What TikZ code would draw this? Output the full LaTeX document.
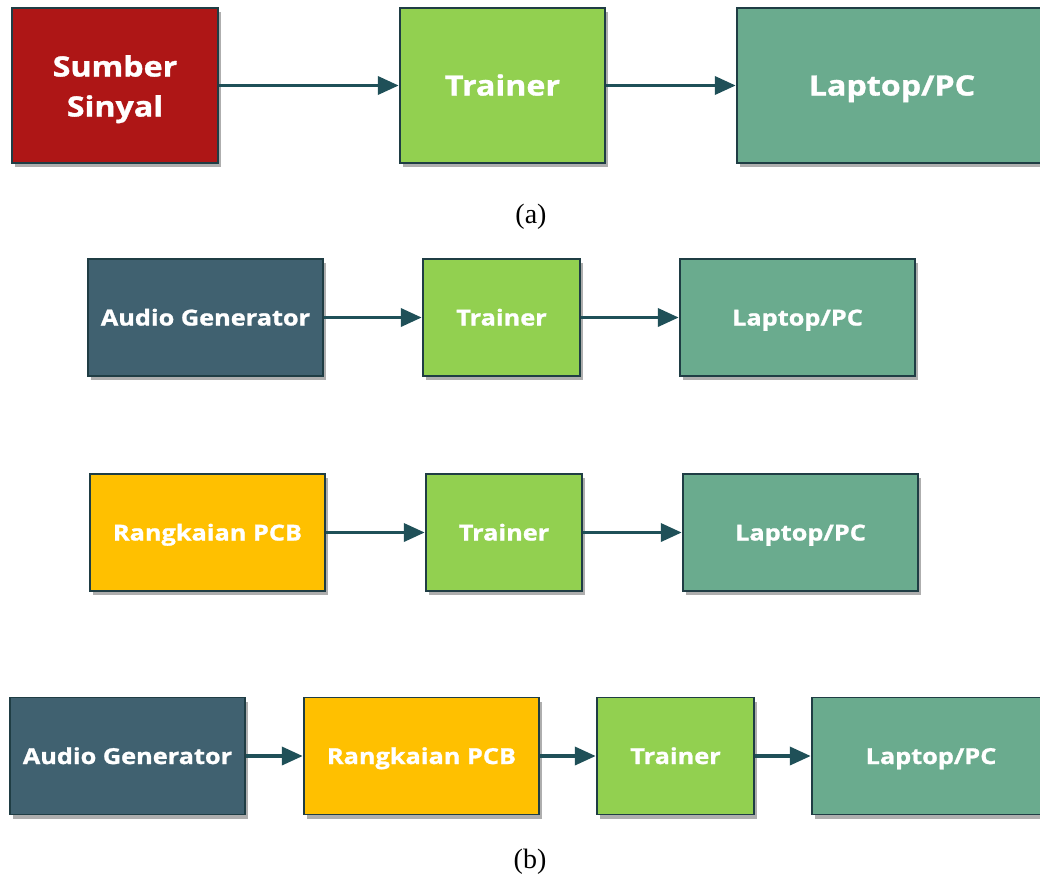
\documentclass[tikz,border=0pt]{standalone}
\usepackage{fontspec}
\setmainfont{Liberation Serif}
\newfontfamily\boxfont{Open Sans}[FakeStretch=1.15,FakeBold=1.2]
\usepackage{tikz}
\usetikzlibrary{positioning,arrows.meta,shadows}
\definecolor{sumberred}{HTML}{AE1616}
\definecolor{trainergreen}{HTML}{92D050}
\definecolor{laptopteal}{HTML}{6AAB8E}
\definecolor{audioslate}{HTML}{406170}
\definecolor{pcbyellow}{HTML}{FFC000}
\definecolor{edgedark}{HTML}{1F3D44}
\definecolor{arrowteal}{HTML}{1F5058}
\tikzset{
 block/.style={rectangle,draw=edgedark,line width=1.5pt,inner sep=0pt,
   text=white,align=center,text depth=0pt,
   drop shadow={shadow xshift=2.5pt,shadow yshift=-4pt,opacity=0.45,fill=black!70}},
 big/.style={block,minimum height=155pt,text height=20pt,
   font=\boxfont\bfseries\fontsize{28}{40}\selectfont},
 small/.style={block,minimum height=117pt,text height=16pt,
   font=\boxfont\bfseries\fontsize{22}{26}\selectfont},
 flow/.style={-{Triangle[length=21pt,width=18pt]},draw=arrowteal,line width=3.8pt,
   shorten >=0.5pt},
 caption/.style={font=\fontsize{28}{32}\selectfont}
 }
\begin{document}
\begin{tikzpicture}[x=1pt,y=-1pt]
      \useasboundingbox (0,0) rectangle (1040,879);
      % (a)
      \node[big,fill=sumberred,minimum width=206pt,text height=62pt] (sumber) at (115,85.5) {Sumber\\Sinyal};
      \node[big,fill=trainergreen,minimum width=205pt] (traina) at (502.5,85.5) {Trainer};
      \node[big,fill=laptopteal,minimum width=310pt] (laptopa) at (892,85.5) {Laptop/PC};
      \draw[flow] (sumber) -- (traina);
      \draw[flow] (traina) -- (laptopa);
      \node[caption] (capa) at (531,217) {(a)};
      % (b) first row
      \node[small,fill=audioslate,minimum width=235pt] (audioa) at (205.5,317.5) {Audio Generator};
      \node[small,fill=trainergreen,minimum width=157pt] (trainb) at (501.5,317.5) {Trainer};
      \node[small,fill=laptopteal,minimum width=235pt] (laptopb) at (797.5,317.5) {Laptop/PC};
      \draw[flow] (audioa) -- (trainb);
      \draw[flow] (trainb) -- (laptopb);
      % (b) second row
      \node[small,fill=pcbyellow,minimum width=235pt] (pcba) at (207.5,532.5) {Rangkaian PCB};
      \node[small,fill=trainergreen,minimum width=156pt] (trainc) at (504,532.5) {Trainer};
      \node[small,fill=laptopteal,minimum width=235pt] (laptopc) at (800.5,532.5) {Laptop/PC};
      \draw[flow] (pcba) -- (trainc);
      \draw[flow] (trainc) -- (laptopc);
      % (b) third row
      \node[small,fill=audioslate,minimum width=235pt] (audiob) at (127.5,756) {Audio Generator};
      \node[small,fill=pcbyellow,minimum width=235pt] (pcbb) at (421.5,756) {Rangkaian PCB};
      \node[small,fill=trainergreen,minimum width=157pt] (traind) at (675.5,756) {Trainer};
      \node[small,fill=laptopteal,minimum width=238pt] (laptopd) at (931,756) {Laptop/PC};
      \draw[flow] (audiob) -- (pcbb);
      \draw[flow] (pcbb) -- (traind);
      \draw[flow] (traind) -- (laptopd);
      \node[caption] (capb) at (530,862) {(b)};
    \end{tikzpicture}
\end{document}
